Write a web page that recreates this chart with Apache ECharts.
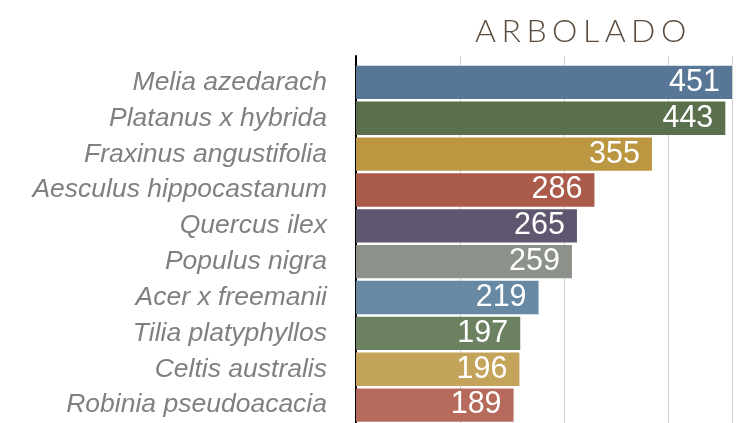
<!DOCTYPE html>
<html>
<head>
<meta charset="utf-8">
<script src="https://cdn.jsdelivr.net/npm/echarts@6/dist/echarts.min.js"></script>
<style>html,body{margin:0;padding:0;background:#fff;}#c{width:755px;height:423px;}</style>
</head>
<body>
<div id="c"></div>
<script>
const categories = ["Melia azedarach","Platanus x hybrida","Fraxinus angustifolia","Aesculus hippocastanum","Quercus ilex","Populus nigra","Acer x freemanii","Tilia platyphyllos","Celtis australis","Robinia pseudoacacia"];
const values = [451,443,355,286,265,259,219,197,196,189];
const colors = ["#587796","#5A704C","#BC9742","#AB5B4A","#5F566F","#8C918A","#6789A3","#6B8160","#C4A45A","#B56A5C"];
const titleText = "ARBOLADO";

const chart = echarts.init(document.getElementById('c'));
const xCommon = {type:'value', min:0, max:451, interval:125, axisLabel:{show:false}, axisTick:{show:false}, axisLine:{show:false},
  splitLine:{show:true, lineStyle:{color:'#d0d0d0', width:1}}};
const titleRich = titleText.split('').map(c=>'{l|'+c+'}').join('');
chart.setOption({
  animation:false,
  title:{text:titleRich, left:470, top:11, textStyle:{rich:{l:{fontFamily:'Lato', fontWeight:300, fontSize:32, color:'#5B4B3D', padding:[0,5.5,0,0]}}}},
  grid:[
    {left:356, right:23, top:64.5, bottom:-1.5, containLabel:false},
    {left:356, right:23, top:56, height:8.5, containLabel:false}
  ],
  xAxis:[Object.assign({gridIndex:0}, xCommon), Object.assign({gridIndex:1}, xCommon)],
  yAxis:[
    {type:'category', gridIndex:0, inverse:true, data:categories,
     axisLine:{show:true, lineStyle:{color:'#000', width:2}}, axisTick:{show:false},
     axisLabel:{margin:29, fontFamily:'Liberation Sans', fontStyle:'italic', fontSize:26.5, color:'#808080'}},
    {type:'value', gridIndex:1, axisLine:{show:true, lineStyle:{color:'#000', width:2}}, axisTick:{show:false}, axisLabel:{show:false}, splitLine:{show:false}}
  ],
  series:[{
    type:'bar', xAxisIndex:0, yAxisIndex:0, barCategoryGap:'7%',
    data: values.map((v,i)=>({value:v, itemStyle:{color:colors[i]}})),
    label:{show:true, position:'insideRight', distance:12, color:'#fff', fontFamily:'Liberation Sans', fontSize:30.5}
  }]
});
</script>
</body>
</html>
